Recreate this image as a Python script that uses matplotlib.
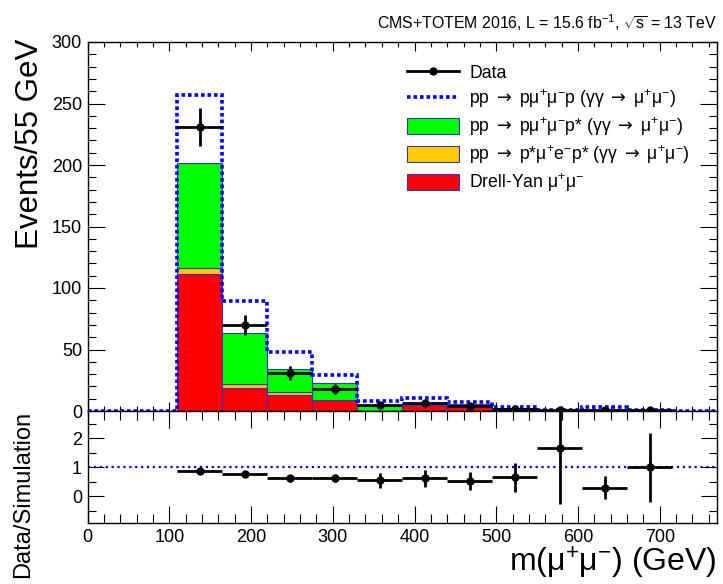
import numpy as np
import matplotlib
matplotlib.use("Agg")
import matplotlib.pyplot as plt
from matplotlib.lines import Line2D
from matplotlib.patches import Patch
from matplotlib.ticker import MultipleLocator

plt.rcParams['font.family'] = ['Liberation Sans', 'DejaVu Sans']
plt.rcParams['mathtext.fontset'] = 'custom'
plt.rcParams['mathtext.rm'] = 'Liberation Sans'
plt.rcParams['mathtext.it'] = 'Liberation Sans'
plt.rcParams['mathtext.bf'] = 'Liberation Sans:bold'
plt.rcParams['mathtext.sf'] = 'DejaVu Sans'

# Binning in m(mu+mu-), 55 GeV wide
bordi = np.arange(0, 771, 55)
centri = (bordi[:-1] + bordi[1:]) / 2

# Stacked simulation (per bin, not cumulative)
drell_yan = [0, 0, 111.4, 18.4, 13.0, 9.0, 0.3, 4.5, 4.3, 0.5, 0.1, 0.3, 0.2, 0.0]
p_mu_e_p = [0, 0, 5.1, 3.5, 2.2, 0.3, 0.1, 0.2, 0.2, 0.1, 0.0, 0.1, 0.0, 0.0]
p_mumu_pstar = [0, 0, 85.4, 41.3, 19.2, 13.7, 3.8, 0.6, 1.2, 1.6, 0.2, 0.4, 0.3, 0.1]
# Total simulation including pp -> p mu mu p (dashed outline)
tot_sim = [0.4, 0.4, 257.0, 89.7, 48.2, 28.9, 8.4, 10.3, 7.6, 3.0, 0.6, 2.9, 1.0, 0.4]

# Data (bins from 110 to 715 GeV)
x_dati = [137.5, 192.5, 247.5, 302.5, 357.5, 412.5, 467.5, 522.5, 577.5, 632.5, 687.5]
dati = [231, 70, 31, 18, 4.5, 6.5, 4, 2, 1, 1, 1]
err_dati = [15.2, 8.4, 5.6, 4.3, 2.1, 2.5, 2.0, 1.4, 1.0, 1.0, 1.0]

# Data / Simulation
rapporto = [0.885, 0.76, 0.62, 0.63, 0.55, 0.62, 0.53, 0.66, 1.68, 0.30, 1.0]
err_rapporto = [0.06, 0.09, 0.11, 0.15, 0.27, 0.30, 0.32, 0.50, 1.96, 0.39, 1.18]

ROSSO = "#ff0000"
ARANCIO = "#ffcc00"
VERDE = "#00ff00"
BLU = "#0000ff"
BORDO = "#3333bb"
FRECCIA = r"$\mathsf{\rightarrow}$"

fig = plt.figure(figsize=(7.23, 5.84), dpi=100)
W, H = 723, 584
ax = fig.add_axes([87.5 / W, 1 - 411 / H, 629.5 / W, 369 / H])
rax = fig.add_axes([87.5 / W, 1 - 523 / H, 629.5 / W, 112 / H], sharex=ax)

dy = np.array(drell_yan)
or_ = np.array(p_mu_e_p)
ve = np.array(p_mumu_pstar)
ax.bar(centri, dy, width=55, color=ROSSO, edgecolor=BORDO, linewidth=0.8, zorder=2)
ax.bar(centri, or_, width=55, bottom=dy, color=ARANCIO, edgecolor=BORDO, linewidth=0.8, zorder=2)
ax.bar(centri, ve, width=55, bottom=dy + or_, color=VERDE, edgecolor=BORDO, linewidth=0.8, zorder=2)
ax.stairs(tot_sim, bordi, color=BLU, linestyle=(0, (1.0, 0.8)), linewidth=2.6, zorder=3)

ax.errorbar(x_dati, dati, xerr=27.5, yerr=err_dati, fmt="o", color="k",
            ms=5, elinewidth=2, capsize=0, zorder=4)

ax.set_xlim(0, 770)
ax.set_ylim(0, 300)
ax.yaxis.set_major_locator(MultipleLocator(50))
ax.yaxis.set_minor_locator(MultipleLocator(10))
ax.xaxis.set_major_locator(MultipleLocator(100))
ax.xaxis.set_minor_locator(MultipleLocator(20))
ax.tick_params(which="both", direction="in", top=True, right=True,
               labelbottom=False, labelsize=13, width=0.8, pad=4)
ax.tick_params(axis="x", which="major", length=6.5)
ax.tick_params(axis="x", which="minor", length=3.5)
ax.tick_params(axis="y", which="major", length=12)
ax.tick_params(axis="y", which="minor", length=6)

ax.set_ylabel("Events/55 GeV", fontsize=22.5, loc="top")
ax.yaxis.set_label_coords(-0.068, 1.01)

ax.text(1.0, 1.025, r"CMS+TOTEM 2016, L = 15.6 fb$^{-1}$, $\sqrt{s}$ = 13 TeV",
        transform=ax.transAxes, ha="right", va="bottom", fontsize=11.4)

handles = [
    Line2D([], [], color="k", marker="o", ms=5, lw=2),
    Line2D([], [], color=BLU, linestyle=(0, (1.0, 0.8)), lw=2.6),
    Patch(facecolor=VERDE, edgecolor=BORDO, linewidth=0.8),
    Patch(facecolor=ARANCIO, edgecolor=BORDO, linewidth=0.8),
    Patch(facecolor=ROSSO, edgecolor=BORDO, linewidth=0.8),
]
etichette = [
    "Data",
    "pp " + FRECCIA + r" pμ$^{+}$μ$^{-}$p (γγ " + FRECCIA + r" μ$^{+}$μ$^{-}$)",
    "pp " + FRECCIA + r" pμ$^{+}$μ$^{-}$p* (γγ " + FRECCIA + r" μ$^{+}$μ$^{-}$)",
    "pp " + FRECCIA + r" p*μ$^{+}$e$^{-}$p* (γγ " + FRECCIA + r" μ$^{+}$μ$^{-}$)",
    r"Drell-Yan μ$^{+}$μ$^{-}$",
]
ax.legend(handles, etichette, loc="upper left", bbox_to_anchor=(0.508, 0.94),
          frameon=False, fontsize=12.7, handlelength=2.95, handleheight=1.02,
          handletextpad=0.55, labelspacing=0.3, borderpad=0, borderaxespad=0)

# Ratio panel
rax.axhline(1.0, color=BLU, linestyle=":", linewidth=1.6, zorder=1)
rax.errorbar(x_dati, rapporto, xerr=27.5, yerr=err_rapporto, fmt="o", color="k",
             ms=5, elinewidth=2, capsize=0, zorder=3)
rax.set_ylim(-0.92, 2.95)
rax.yaxis.set_major_locator(MultipleLocator(1))
rax.yaxis.set_minor_locator(MultipleLocator(0.5))
rax.tick_params(which="both", direction="in", top=True, right=True,
                labelsize=13, width=0.8, pad=4)
rax.tick_params(axis="x", which="major", length=12)
rax.tick_params(axis="x", which="minor", length=6.5)
rax.tick_params(axis="y", which="major", length=11.5)
rax.tick_params(axis="y", which="minor", length=6)

rax.set_ylabel("Data/Simulation", fontsize=17, loc="top")
rax.yaxis.set_label_coords(-0.085, 1.0)
rax.set_xlabel(r"m(μ$^{+}$μ$^{-}$) (GeV)", fontsize=23, loc="right")
rax.xaxis.set_label_coords(1.0, -0.19)

for a in (ax, rax):
    for s in a.spines.values():
        s.set_linewidth(1.0)

plt.savefig("out.png", dpi=100)
